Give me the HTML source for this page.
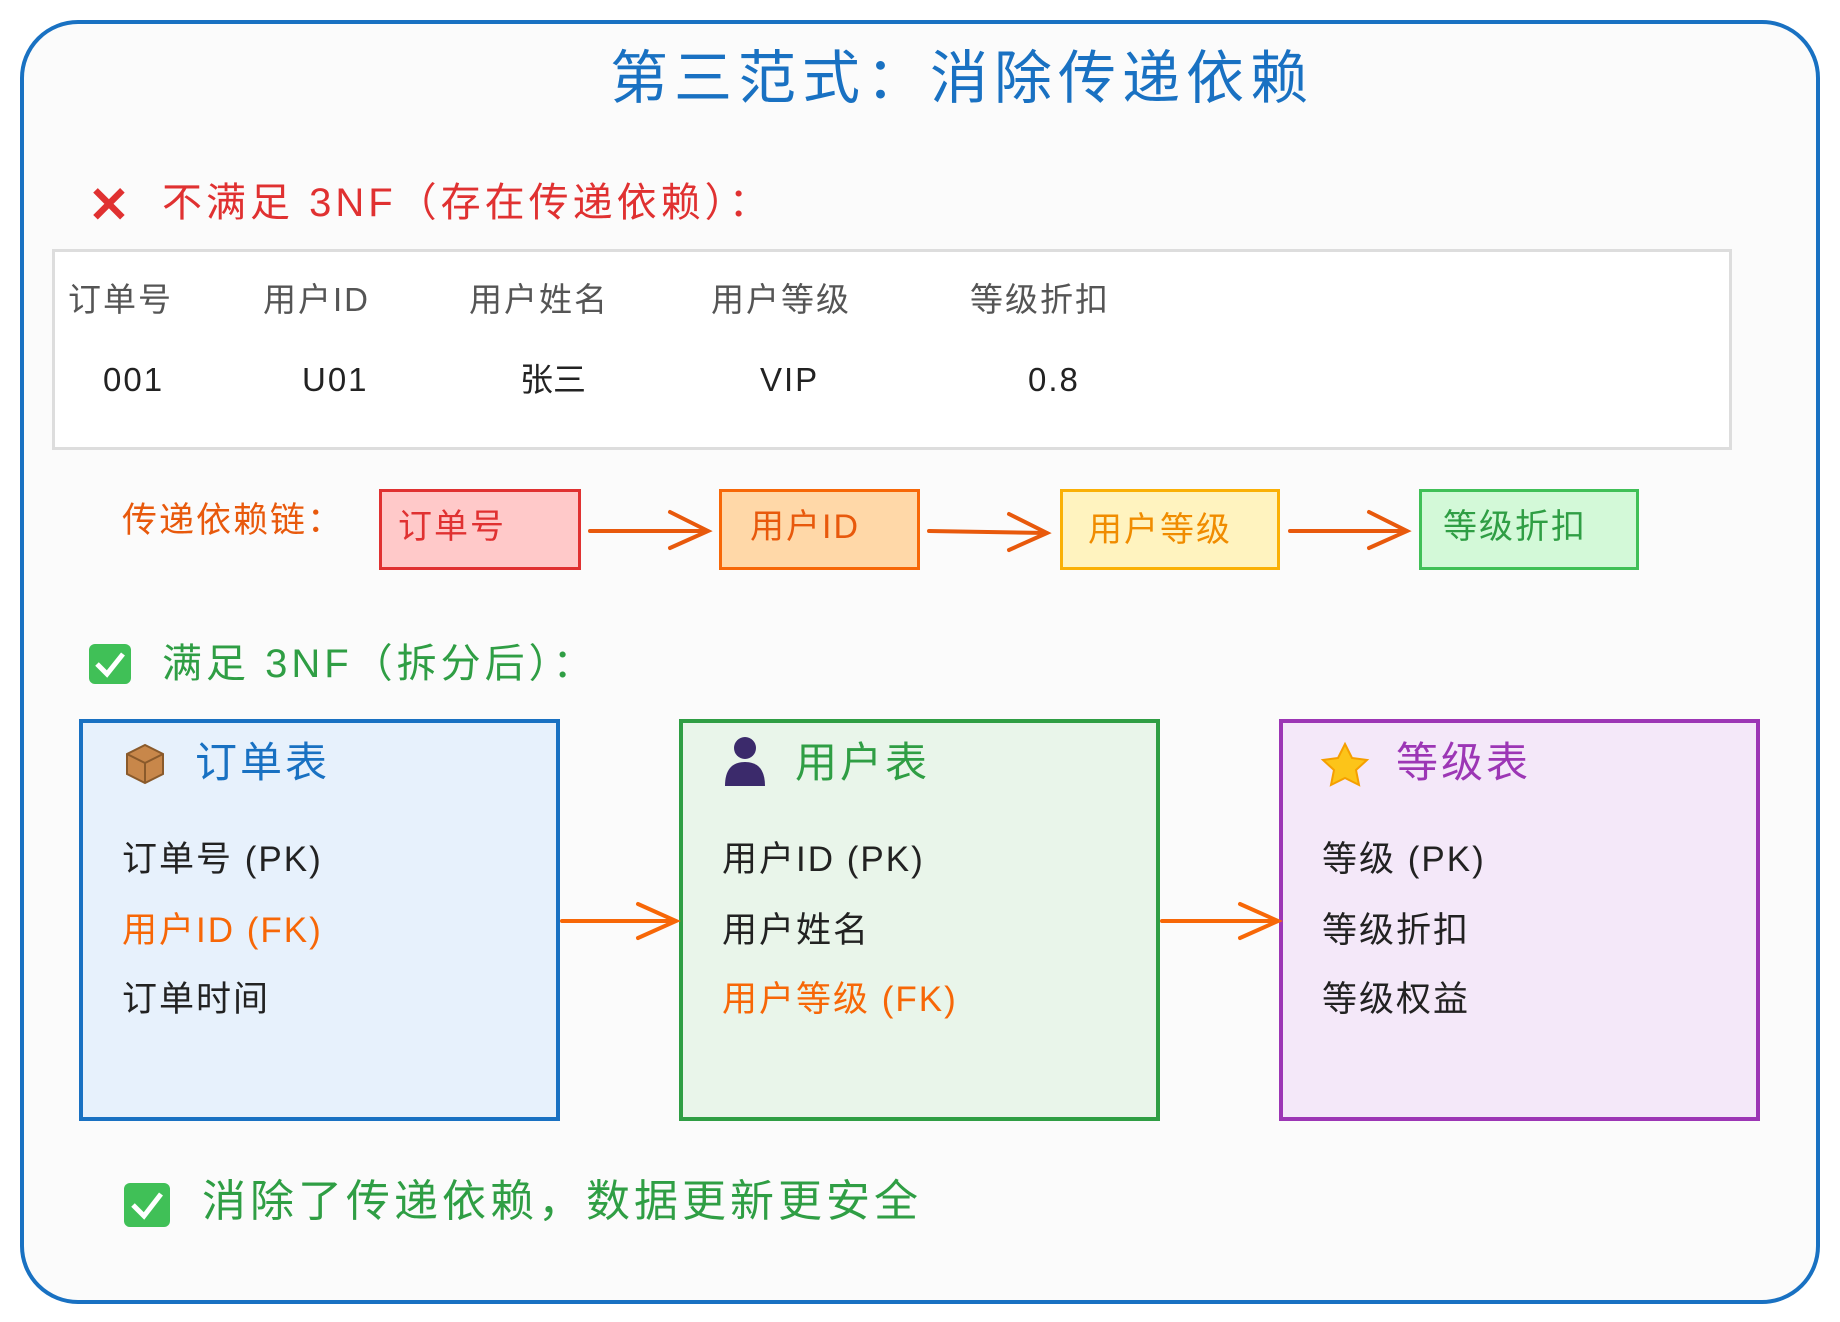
<!DOCTYPE html>
<html><head><meta charset="utf-8">
<style>
html,body{margin:0;padding:0;background:#fff;}
body{width:1840px;height:1322px;position:relative;overflow:hidden;font-family:"Liberation Sans","Noto Sans CJK SC",sans-serif;}
.a{position:absolute;white-space:nowrap;line-height:1;}
.box{position:absolute;box-sizing:border-box;}
</style></head><body>
<div class="box" style="left:20px;top:20px;width:1800px;height:1284px;border:4px solid #1971c2;border-radius:58px;background:#fbfbfb;"></div>
<div class="a" style="left:0;width:1924px;text-align:center;top:50px;font-size:58px;color:#1971c2;letter-spacing:6px;">第三范式：消除传递依赖</div>

<div class="a" style="left:88px;top:180px;font-size:50px;color:#e03131;font-weight:bold;">✕</div>
<div class="a" style="left:162px;top:183px;font-size:40px;color:#e03131;letter-spacing:4px;">不满足 3NF（存在传递依赖）：</div>

<div class="box" style="left:52px;top:249px;width:1680px;height:201px;border:3px solid #ddd;background:#fff;"></div>
<div class="a" style="left:68px;top:283px;font-size:33px;color:#555;letter-spacing:2px;">订单号</div>
<div class="a" style="left:263px;top:283px;font-size:33px;color:#555;letter-spacing:2px;">用户ID</div>
<div class="a" style="left:469px;top:283px;font-size:33px;color:#555;letter-spacing:2px;">用户姓名</div>
<div class="a" style="left:711px;top:283px;font-size:33px;color:#555;letter-spacing:2px;">用户等级</div>
<div class="a" style="left:970px;top:283px;font-size:33px;color:#555;letter-spacing:2px;">等级折扣</div>
<div class="a" style="left:103px;top:363px;font-size:33px;color:#222;letter-spacing:2px;">001</div>
<div class="a" style="left:302px;top:363px;font-size:33px;color:#222;letter-spacing:2px;">U01</div>
<div class="a" style="left:520px;top:363px;font-size:33px;color:#222;">张三</div>
<div class="a" style="left:760px;top:363px;font-size:33px;color:#222;letter-spacing:2px;">VIP</div>
<div class="a" style="left:1028px;top:363px;font-size:33px;color:#222;letter-spacing:2px;">0.8</div>

<div class="a" style="left:122px;top:503px;font-size:35px;color:#e8590c;letter-spacing:2px;">传递依赖链：</div>
<div class="box" style="left:379px;top:489px;width:202px;height:81px;border:3px solid #e03131;background:#ffc9c9;"></div>
<div class="a" style="left:398px;top:510px;font-size:34px;color:#e03131;letter-spacing:2px;">订单号</div>
<div class="box" style="left:719px;top:489px;width:201px;height:81px;border:3px solid #f76707;background:#ffd8a8;"></div>
<div class="a" style="left:750px;top:510px;font-size:34px;color:#e8590c;letter-spacing:2px;">用户ID</div>
<div class="box" style="left:1060px;top:489px;width:220px;height:81px;border:3px solid #fab005;background:#fff3bf;"></div>
<div class="a" style="left:1088px;top:513px;font-size:34px;color:#f08c00;letter-spacing:2px;">用户等级</div>
<div class="box" style="left:1419px;top:489px;width:220px;height:81px;border:3px solid #40c057;background:#d3f9d8;"></div>
<div class="a" style="left:1443px;top:510px;font-size:34px;color:#2f9e44;letter-spacing:2px;">等级折扣</div>

<div class="a" style="left:162px;top:644px;font-size:40px;color:#2f9e44;letter-spacing:4px;">满足 3NF（拆分后）：</div>

<div class="box" style="left:79px;top:719px;width:481px;height:402px;border:4px solid #1971c2;background:#e7f1fc;"></div>
<div class="a" style="left:195px;top:742px;font-size:42px;color:#1971c2;letter-spacing:3px;">订单表</div>
<div class="a" style="left:122px;top:842px;font-size:35px;color:#222;letter-spacing:2px;">订单号 (PK)</div>
<div class="a" style="left:122px;top:913px;font-size:35px;color:#f76707;letter-spacing:2px;">用户ID (FK)</div>
<div class="a" style="left:122px;top:982px;font-size:35px;color:#222;letter-spacing:2px;">订单时间</div>

<div class="box" style="left:679px;top:719px;width:481px;height:402px;border:4px solid #2f9e44;background:#e9f5ea;"></div>
<div class="a" style="left:795px;top:742px;font-size:42px;color:#2f9e44;letter-spacing:3px;">用户表</div>
<div class="a" style="left:722px;top:842px;font-size:35px;color:#222;letter-spacing:2px;">用户ID (PK)</div>
<div class="a" style="left:722px;top:913px;font-size:35px;color:#222;letter-spacing:2px;">用户姓名</div>
<div class="a" style="left:722px;top:982px;font-size:35px;color:#f76707;letter-spacing:2px;">用户等级 (FK)</div>

<div class="box" style="left:1279px;top:719px;width:481px;height:402px;border:4px solid #9c36b5;background:#f4e8f9;"></div>
<div class="a" style="left:1396px;top:742px;font-size:42px;color:#9c36b5;letter-spacing:3px;">等级表</div>
<div class="a" style="left:1322px;top:842px;font-size:35px;color:#222;letter-spacing:2px;">等级 (PK)</div>
<div class="a" style="left:1322px;top:913px;font-size:35px;color:#222;letter-spacing:2px;">等级折扣</div>
<div class="a" style="left:1322px;top:982px;font-size:35px;color:#222;letter-spacing:2px;">等级权益</div>

<div class="a" style="left:202px;top:1180px;font-size:44px;color:#2f9e44;letter-spacing:4px;">消除了传递依赖，数据更新更安全</div>

<svg style="position:absolute;left:0;top:0;z-index:10" width="1840" height="1322">
<g stroke="#e8590c" stroke-width="4" fill="none" stroke-linecap="round">
<path d="M590 531 L708 531 M670 512 L708 531 L670 548"/>
<path d="M929 531 L1047 533 M1009 514 L1047 533 L1009 550"/>
<path d="M1290 531 L1407 531 M1369 512 L1407 531 L1369 548"/>
</g>
<g stroke="#f76707" stroke-width="4" fill="none" stroke-linecap="round">
<path d="M562 921 L676 921 M638 904 L676 921 L638 938"/>
<path d="M1162 921 L1278 921 M1240 904 L1278 921 L1240 938"/>
</g>
<rect x="89" y="644" width="42" height="40" rx="6" fill="#40c057"/>
<path d="M97 664 L107 674 L123 654" stroke="#fff" stroke-width="5" fill="none"/>
<rect x="124" y="1183" width="46" height="44" rx="6" fill="#40c057"/>
<path d="M133 1205 L144 1216 L161 1194" stroke="#fff" stroke-width="5" fill="none"/>
<path d="M1345 744 l7 14 15 2 -11 10 3 15 -14 -7 -14 7 3 -15 -11 -10 15 -2z" fill="#fcc419" stroke="#f59f00" stroke-width="2"/>
<circle cx="745" cy="748" r="11" fill="#3b2a6b"/>
<path d="M725 786 q0 -24 20 -24 q20 0 20 24z" fill="#3b2a6b"/>
<path d="M127 754 l18 -9 18 9 v20 l-18 9 -18 -9z" fill="#c8874a" stroke="#8a5a2b" stroke-width="2"/>
<path d="M127 754 l18 9 18 -9 M145 763 v20" stroke="#8a5a2b" stroke-width="2" fill="none"/>
</svg>
</body></html>
